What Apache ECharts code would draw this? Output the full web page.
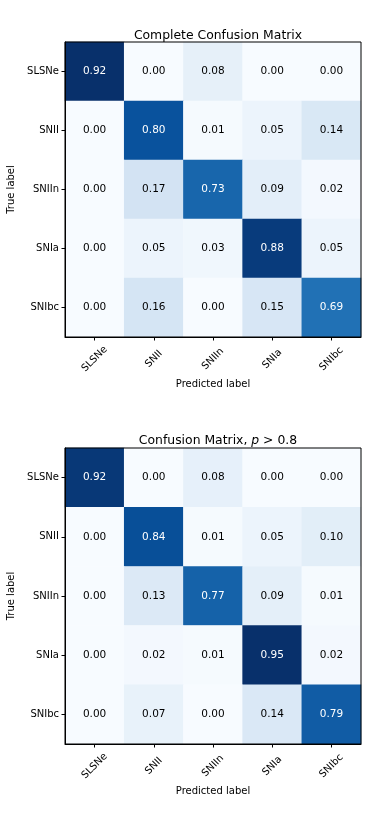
<!DOCTYPE html>
<html><head><meta charset="utf-8">
<script src="https://cdn.jsdelivr.net/npm/echarts@6/dist/echarts.min.js"></script>
<style>html,body{margin:0;padding:0;background:#fff}#c{width:374px;height:822px}</style>
</head><body><div id="c"></div>
<script>
const classes = ['SLSNe','SNII','SNIIn','SNIa','SNIbc'];
const matrixComplete = [
  [0.92,0.00,0.08,0.00,0.00],
  [0.00,0.80,0.01,0.05,0.14],
  [0.00,0.17,0.73,0.09,0.02],
  [0.00,0.05,0.03,0.88,0.05],
  [0.00,0.16,0.00,0.15,0.69]
];
const matrixHighP = [
  [0.92,0.00,0.08,0.00,0.00],
  [0.00,0.84,0.01,0.05,0.10],
  [0.00,0.13,0.77,0.09,0.01],
  [0.00,0.02,0.01,0.95,0.02],
  [0.00,0.07,0.00,0.14,0.79]
];
const titles = ['Complete Confusion Matrix', 'Confusion Matrix, p > 0.8'];
const blues = ['#f7fbff','#deebf7','#c6dbef','#9ecae1','#6baed6','#4292c6','#2171b5','#08519c','#08306b'];
const FONT = 'DejaVu Sans';

function toData(m){
  const d=[];
  m.forEach((row,i)=>row.forEach((v,j)=>d.push([j,i,v])));
  return d;
}
const mats=[matrixComplete, matrixHighP];
const grids=[{left:65,width:296,top:42,height:295},{left:65,width:296,top:448,height:296}];
const chart=echarts.init(document.getElementById('c'),null,{renderer:'canvas'});
const option={
  backgroundColor:'#fff',
  animation:false,
  title:[
    {text:titles[0],left:213,top:25,textAlign:'center',textStyle:{fontFamily:FONT,fontSize:12.4,fontWeight:'normal',color:'#000'}},
    {text:'Confusion Matrix, {i|p} > 0.8',left:213,top:430,textAlign:'center',textStyle:{fontFamily:FONT,fontSize:12.4,fontWeight:'normal',color:'#000',rich:{i:{fontFamily:FONT,fontSize:12.4,fontStyle:'italic',color:'#000'}}}}
  ],
  grid:grids.map(g=>Object.assign({show:true,borderColor:'#000',borderWidth:1,backgroundColor:'transparent',z:10,containLabel:false,outerBoundsMode:'none'},g)),
  xAxis:grids.map((g,k)=>({
    type:'category',gridIndex:k,data:classes,position:'bottom',
    name:'Predicted label',nameLocation:'middle',nameGap:42,
    nameTextStyle:{fontFamily:FONT,fontSize:10,color:'#000'},
    axisLine:{show:true,lineStyle:{color:'#000',width:1}},
    axisTick:{show:true,alignWithLabel:true,length:3.5,lineStyle:{color:'#000'}},
    axisLabel:{fontFamily:FONT,fontSize:10,color:'#000',rotate:45,align:'center',verticalAlign:'middle',margin:22},
    splitLine:{show:false},splitArea:{show:false},z:11
  })),
  yAxis:grids.map((g,k)=>({
    type:'category',gridIndex:k,data:classes,inverse:true,
    name:'True label',nameLocation:'middle',nameGap:47,
    nameTextStyle:{fontFamily:FONT,fontSize:10,color:'#000'},
    axisLine:{show:true,lineStyle:{color:'#000',width:1}},
    axisTick:{show:true,alignWithLabel:true,length:3.5,lineStyle:{color:'#000'}},
    axisLabel:{fontFamily:FONT,fontSize:10,color:'#000',margin:6},
    splitLine:{show:false},splitArea:{show:false},z:11
  })),
  visualMap:mats.map((m,k)=>{
    const flat=m.flat();
    return {type:'continuous',show:false,seriesIndex:k,dimension:2,
      min:Math.min(...flat),max:Math.max(...flat),inRange:{color:blues}};
  }),
  series:mats.map((m,k)=>{
    const mx=Math.max(...m.flat());
    return {
      type:'heatmap',xAxisIndex:k,yAxisIndex:k,
      data:toData(m).map(d=>({value:d,label:{color:d[2]>mx/2?'#fff':'#000'}})),
      label:{show:true,fontFamily:FONT,fontSize:10.5,formatter:p=>p.value[2].toFixed(2)},
      itemStyle:{borderWidth:0},
      emphasis:{disabled:true}
    };
  })
};
chart.setOption(option);
</script></body></html>
